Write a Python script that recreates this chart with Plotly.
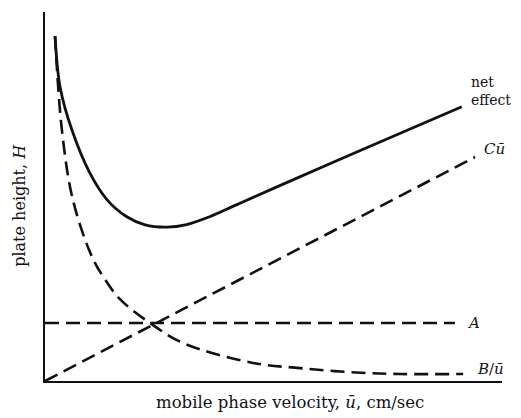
import plotly.graph_objects as go

# Values (arbitrary units)
net_u = [0.22, 0.33, 0.59, 0.98, 1.36, 1.79, 2.19, 2.67, 3.10, 3.60, 4.20, 5.00, 7.00, 9.12]
net_H = [9.35, 7.97, 6.80, 5.64, 4.91, 4.45, 4.23, 4.17, 4.24, 4.45, 4.78, 5.22, 6.30, 7.43]

b_u = [0.22, 0.37, 0.61, 1.03, 1.31, 1.64, 2.30, 3.02, 4.55, 5.58, 6.67, 7.77, 9.15]
b_H = [9.35, 6.80, 4.91, 3.36, 2.76, 2.22, 1.57, 1.03, 0.49, 0.35, 0.24, 0.19, 0.19]

a_u = [0.0, 8.97]
a_H = [1.57, 1.57]

c_u = [0.0, 9.41]
c_H = [0.0, 6.07]

labels = ["net<br>effect", "<i>C</i><i>ū</i>", "<i>A</i>", "<i>B</i>/<i>ū</i>"]
label_u = [9.27, 9.56, 9.19, 9.42]
label_H = [7.85, 6.28, 1.57, 0.32]

FONT = "DejaVu Serif"
INK = "#111111"
DASH = "14px,7px"

fig = go.Figure()
fig.add_trace(go.Scatter(x=a_u, y=a_H, mode="lines",
                         line=dict(color=INK, width=2.6, dash=DASH)))
fig.add_trace(go.Scatter(x=c_u, y=c_H, mode="lines",
                         line=dict(color=INK, width=2.6, dash=DASH)))
fig.add_trace(go.Scatter(x=b_u, y=b_H, mode="lines", line_shape="spline",
                         line=dict(color=INK, width=2.6, dash=DASH)))
fig.add_trace(go.Scatter(x=net_u, y=net_H, mode="lines", line_shape="spline",
                         line=dict(color=INK, width=2.8)))

label_size = [14, 15, 15, 15]
for t, xu, yh, fs in zip(labels, label_u, label_H, label_size):
    fig.add_annotation(x=xu, y=yh, text=t, showarrow=False, xanchor="left",
                       yanchor="middle", align="left",
                       font=dict(family=FONT, size=fs, color=INK))

fig.add_annotation(xref="paper", yref="paper", x=0.536, y=-0.028,
                   text="mobile phase velocity, <i>ū</i>, cm/sec",
                   showarrow=False, xanchor="center", yanchor="top",
                   font=dict(family=FONT, size=16.5, color=INK))
fig.add_annotation(xref="paper", yref="paper", x=-0.03, y=0.477,
                   text="plate height, <i>H</i>", textangle=-90,
                   showarrow=False, xanchor="right", yanchor="middle",
                   font=dict(family=FONT, size=16, color=INK))

# page body has an 8px default margin, so the figure is sized to fit the window
fig.update_layout(
    width=513, height=410,
    margin=dict(l=37, r=19, t=4, b=37),
    plot_bgcolor="white", paper_bgcolor="white",
    showlegend=False,
    xaxis=dict(range=[0, 10], showline=True, linecolor=INK, linewidth=2,
               showgrid=False, zeroline=False, showticklabels=False, ticks=""),
    yaxis=dict(range=[0, 10], showline=True, linecolor=INK, linewidth=2,
               showgrid=False, zeroline=False, showticklabels=False, ticks=""),
)

fig.write_html("out.html")
